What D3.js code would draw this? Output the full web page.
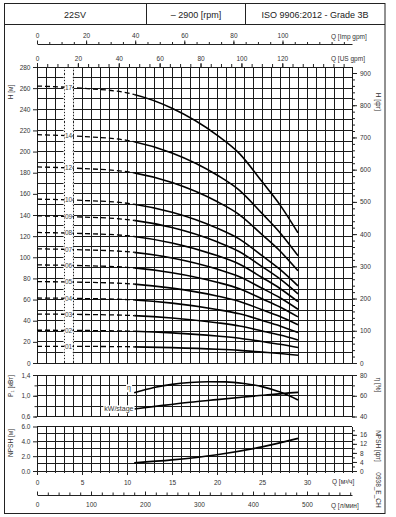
<!DOCTYPE html>
<html><head><meta charset="utf-8">
<script src="https://cdn.jsdelivr.net/npm/d3@7"></script>
<style>
html,body{margin:0;padding:0;background:#fff;}
svg{display:block;font-family:"Liberation Sans",Arial,sans-serif;}
</style></head>
<body>
<svg id="c" width="396" height="517"></svg>
<script>
// ---------- DATA ----------
const headerTexts = ["22SV", "\u2013 2900 [rpm]", "ISO 9906:2012 - Grade 3B"];
const qPoints = [0, 5, 10, 15, 20, 22.5, 25, 27, 29];           // m3/h
const stageLabels = ["17","14","12","10","09","08","07","06","05","04","03","02","01"];
const head17 = [262, 259.9, 255.5, 241.0, 215.6, 198.1, 171.6, 149.6, 123.1];
const head14 = [216, 214.3, 210.6, 198.7, 177.8, 163.3, 141.5, 123.3, 101.5];
const head12 = [185.5, 184.0, 180.9, 170.7, 152.7, 140.2, 121.5, 105.9, 87.2];
const head10 = [155, 153.8, 151.1, 142.6, 127.6, 117.2, 101.5, 88.5, 72.9];
const head09 = [139.2, 138.1, 135.7, 128.1, 114.6, 105.2, 91.2, 79.5, 65.4];
const head08 = [123.5, 122.5, 120.4, 113.6, 101.6, 93.4, 80.9, 70.5, 58.0];
const head07 = [108, 107.1, 105.3, 99.4, 88.9, 81.6, 70.7, 61.7, 50.8];
const head06 = [92.8, 92.1, 90.5, 85.4, 76.4, 70.2, 60.8, 53.0, 43.6];
const head05 = [77, 76.4, 75.1, 70.8, 63.4, 58.2, 50.4, 44.0, 36.2];
const head04 = [61.5, 61.0, 60.0, 56.6, 50.6, 46.5, 40.3, 35.1, 28.9];
const head03 = [46.3, 45.9, 45.1, 42.6, 38.1, 35.0, 30.3, 26.4, 21.8];
const head02 = [31, 30.8, 30.2, 28.5, 25.5, 23.4, 20.3, 17.7, 14.6];
const head01 = [15.8, 15.7, 15.4, 14.5, 13.0, 11.9, 10.3, 9.0, 7.4];
const headSeries = [head17, head14, head12, head10, head09, head08, head07, head06, head05, head04, head03, head02, head01];
const solidFromQ = 10.8;

const etaQ = [10.8, 13, 15, 17, 19, 21, 23, 25, 27, 29];
const etaValues = [62.8, 68, 71, 72.8, 73.5, 73.4, 71.8, 68.8, 63.5, 56];
const powerQ = [10.8, 14, 17, 20, 23, 26, 29];
const powerValues = [0.745, 0.815, 0.875, 0.925, 0.975, 1.025, 1.065];
const npshQ = [10.8, 15, 20, 25, 29];
const npshValues = [1.1, 1.5, 2.2, 3.25, 4.4];

const hTickLabels = [0,20,40,60,80,100,120,140,160,180,200,220,240,260,280];
const hFtTickLabels = [0,100,200,300,400,500,600,700,800,900];
const impTickLabels = [0,20,40,60,80,100];
const usTickLabels = [0,20,40,60,80,100,120];
const m3hTickLabels = [0,5,10,15,20,25,30];
const lminTickLabels = [0,100,200,300,400,500];
const pTickLabels = [0.6,1.0,1.4];
const etaTickLabels = [40,60,80];
const npshTickLabels = [0,2,4,6];
const npshFtTickLabels = [0,4,8,12,16];

// ---------- SCALES ----------
const svg = d3.select("#c");
const X0 = 37, X1 = 352;
const QMAX = 35;
const x = d3.scaleLinear([0, QMAX], [X0, X1]);
const xImp = d3.scaleLinear([0, QMAX / 0.272765], [X0, X1]);
const xUS = d3.scaleLinear([0, QMAX / 0.227125], [X0, X1]);
const xL = d3.scaleLinear([0, QMAX * 1000 / 60], [X0, X1]);
const yH = d3.scaleLinear([0, 280], [363, 67]);
const yHft = d3.scaleLinear([0, 280 / 0.3048], [363, 67]);
const yP = d3.scaleLinear([0.6, 1.4], [416.5, 375]);
const yEta = d3.scaleLinear([40, 80], [416.5, 375]);
const yN = d3.scaleLinear([0, 6], [471, 426.5]);
const yNft = d3.scaleLinear([0, 6 / 0.3048], [471, 426.5]);

const FS = 6.5, TXT = "#333";

// ---------- FRAME & HEADER ----------
svg.append("rect").attr("x",4.5).attr("y",3.5).attr("width",380.5).attr("height",510)
  .attr("fill","none").attr("stroke","#222").attr("stroke-width",1);
svg.append("line").attr("x1",4.5).attr("x2",385).attr("y1",24.5).attr("y2",24.5).attr("stroke","#222");
[146.5, 245.5].forEach(v => svg.append("line").attr("x1",v).attr("x2",v).attr("y1",3.5).attr("y2",24.5).attr("stroke","#222"));
const hdrX = [75, 196, 315];
headerTexts.forEach((t,i) => svg.append("text").attr("x",hdrX[i]).attr("y",17.5)
  .attr("text-anchor","middle").attr("font-size",9).attr("fill","#222").text(t));

// ---------- GRIDS ----------
function grid(yScale, yStep, yMin, yMax) {
  const g = svg.append("g").attr("stroke","#1a1a1a").attr("stroke-width",1).attr("shape-rendering","crispEdges");
  d3.range(0, QMAX + 0.001, 1).forEach(q => g.append("line")
    .attr("x1",x(q)).attr("x2",x(q)).attr("y1",yScale(yMin)).attr("y2",yScale(yMax)));
  d3.range(yMin, yMax + yStep/2, yStep).forEach(v => g.append("line")
    .attr("x1",X0).attr("x2",X1).attr("y1",yScale(v)).attr("y2",yScale(v)));
  return g;
}
grid(yH, 10, 0, 280);
grid(yP, 0.2, 0.6, 1.4);
grid(yN, 1, 0, 6);

// label column (white strip with dotted edges)
svg.append("rect").attr("x",x(3)+0.5).attr("y",yH(280)+1).attr("width",x(4)-x(3)-1)
  .attr("height",yH(0)-yH(280)-2).attr("fill","#fff");
[3,4].forEach(q => {
  svg.append("rect").attr("x",x(q)-0.5).attr("y",yH(280)+1).attr("width",1.2)
    .attr("height",yH(0)-yH(280)-2).attr("fill","#fff");
  svg.append("line").attr("x1",x(q)).attr("x2",x(q)).attr("y1",yH(280)).attr("y2",yH(0))
    .attr("stroke","#222").attr("stroke-width",1).attr("stroke-dasharray","1.2,2")
    .attr("shape-rendering","crispEdges");
});

// ---------- CLIPS ----------
const defs = svg.append("defs");
defs.append("clipPath").attr("id","dashClip").append("rect")
  .attr("x",0).attr("y",0).attr("width",x(solidFromQ)).attr("height",517);
defs.append("clipPath").attr("id","solidClip").append("rect")
  .attr("x",x(solidFromQ)).attr("y",0).attr("width",396).attr("height",517);

// ---------- HEAD CURVES ----------
const lineH = d3.line().x((d,i) => x(qPoints[i])).y(d => yH(d)).curve(d3.curveMonotoneX);
const curves = svg.append("g").attr("fill","none").attr("stroke","#000");
headSeries.forEach(s => {
  curves.append("path").attr("d", lineH(s)).attr("clip-path","url(#dashClip)")
    .attr("stroke-width",1.3).attr("stroke-dasharray","5,3");
  curves.append("path").attr("d", lineH(s)).attr("clip-path","url(#solidClip)")
    .attr("stroke-width",1.6);
});
// stage labels
const labG = svg.append("g").attr("font-size",FS).attr("fill","#444");
headSeries.forEach((s,i) => {
  const yy = yH(d3.scaleLinear(qPoints, s)(3.5));
  labG.append("rect").attr("x",x(3)+0.5).attr("y",yy-3.5).attr("width",x(4)-x(3)-1).attr("height",7).attr("fill","#fff");
  labG.append("text").attr("x",(x(3)+x(4))/2).attr("y",yy+2.3).attr("text-anchor","middle").text(stageLabels[i]);
});

// ---------- ETA / POWER ----------
svg.append("path").attr("fill","none").attr("stroke","#000").attr("stroke-width",1.6)
  .attr("d", d3.line().x((d,i)=>x(etaQ[i])).y(d=>yEta(d)).curve(d3.curveMonotoneX)(etaValues));
svg.append("path").attr("fill","none").attr("stroke","#000").attr("stroke-width",1.6)
  .attr("d", d3.line().x((d,i)=>x(powerQ[i])).y(d=>yP(d)).curve(d3.curveMonotoneX)(powerValues));
function boxLabel(t, xr, yc) {
  const tx = svg.append("text").attr("x",xr).attr("y",yc+2.3).attr("text-anchor","end")
    .attr("font-size",FS+0.5).attr("fill","#333").text(t);
  const bb = tx.node().getBBox();
  svg.insert("rect", () => tx.node()).attr("x",bb.x-1).attr("y",bb.y).attr("width",bb.width+2)
    .attr("height",bb.height).attr("fill","#fff");
}
boxLabel("\u03b7", 131, 388);
boxLabel("kW/stage", 133.5, 409);

// ---------- NPSH ----------
svg.append("path").attr("fill","none").attr("stroke","#000").attr("stroke-width",1.6)
  .attr("d", d3.line().x((d,i)=>x(npshQ[i])).y(d=>yN(d)).curve(d3.curveMonotoneX)(npshValues));

// ---------- AXES ----------
function styleAxis(g) {
  g.attr("font-size",FS).attr("font-family","Liberation Sans, Arial, sans-serif");
  g.selectAll("text").attr("fill",TXT);
  g.selectAll("line").attr("stroke","#222");
  g.selectAll("path").attr("stroke","#222");
  return g;
}
function fmtComma(d){ return d3.format(".1f")(d).replace(".", ","); }

// top Imp gpm
styleAxis(svg.append("g").attr("transform","translate(0,44)")
  .call(d3.axisTop(xImp).tickValues(d3.range(0,126,5)).tickSize(2).tickFormat("").tickSizeOuter(0)));
styleAxis(svg.append("g").attr("transform","translate(0,44)")
  .call(d3.axisTop(xImp).tickValues(impTickLabels).tickSize(3.5).tickPadding(2.5).tickSizeOuter(0))
  .call(g=>g.select(".domain").remove()));
svg.append("text").attr("x",331).attr("y",38.5).attr("font-size",FS).attr("fill",TXT).text("Q [Imp gpm]");

// top US gpm (on top of main plot)
styleAxis(svg.append("g").attr("transform","translate(0,67)")
  .call(d3.axisTop(xUS).tickValues(d3.range(0,151,5)).tickSize(3).tickFormat("").tickSizeOuter(0))
  .call(g=>g.select(".domain").remove()));
styleAxis(svg.append("g").attr("transform","translate(0,67)")
  .call(d3.axisTop(xUS).tickValues(usTickLabels).tickSize(4).tickPadding(2.5).tickSizeOuter(0))
  .call(g=>g.select(".domain").remove()));
svg.append("text").attr("x",331).attr("y",61).attr("font-size",FS).attr("fill",TXT).text("Q [US gpm]");

// left H [m]
styleAxis(svg.append("g").attr("transform",`translate(${X0},0)`)
  .call(d3.axisLeft(yH).tickValues(hTickLabels).tickSize(4).tickPadding(2.5).tickSizeOuter(0))
  .call(g=>g.select(".domain").remove()));
// right H [ft]
styleAxis(svg.append("g").attr("transform",`translate(${X1},0)`)
  .call(d3.axisRight(yHft).tickValues(d3.range(0,901,20)).tickSize(3).tickFormat("").tickSizeOuter(0))
  .call(g=>g.select(".domain").remove()));
styleAxis(svg.append("g").attr("transform",`translate(${X1},0)`)
  .call(d3.axisRight(yHft).tickValues(hFtTickLabels).tickSize(5).tickPadding(3).tickSizeOuter(0))
  .call(g=>g.select(".domain").remove()));

// P axis left
styleAxis(svg.append("g").attr("transform",`translate(${X0},0)`)
  .call(d3.axisLeft(yP).tickValues([0.6,0.8,1.0,1.2,1.4]).tickSize(2.5).tickFormat("").tickSizeOuter(0))
  .call(g=>g.select(".domain").remove()));
styleAxis(svg.append("g").attr("transform",`translate(${X0},0)`)
  .call(d3.axisLeft(yP).tickValues(pTickLabels).tickSize(4).tickPadding(2.5).tickFormat(fmtComma).tickSizeOuter(0))
  .call(g=>g.select(".domain").remove()));
// eta right
styleAxis(svg.append("g").attr("transform",`translate(${X1},0)`)
  .call(d3.axisRight(yEta).tickValues([40,50,60,70,80]).tickSize(3).tickFormat("").tickSizeOuter(0))
  .call(g=>g.select(".domain").remove()));
styleAxis(svg.append("g").attr("transform",`translate(${X1},0)`)
  .call(d3.axisRight(yEta).tickValues(etaTickLabels).tickSize(5).tickPadding(3).tickSizeOuter(0))
  .call(g=>g.select(".domain").remove()));

// NPSH left
styleAxis(svg.append("g").attr("transform",`translate(${X0},0)`)
  .call(d3.axisLeft(yN).tickValues(npshTickLabels).tickSize(4).tickPadding(2.5).tickSizeOuter(0))
  .call(g=>g.select(".domain").remove()));
// NPSH right ft
styleAxis(svg.append("g").attr("transform",`translate(${X1},0)`)
  .call(d3.axisRight(yNft).tickValues(d3.range(0,19,2)).tickSize(3).tickFormat("").tickSizeOuter(0))
  .call(g=>g.select(".domain").remove()));
styleAxis(svg.append("g").attr("transform",`translate(${X1},0)`)
  .call(d3.axisRight(yNft).tickValues(npshFtTickLabels).tickSize(5).tickPadding(3).tickSizeOuter(0))
  .call(g=>g.select(".domain").remove()));

// bottom m3/h
styleAxis(svg.append("g").attr("transform","translate(0,471)")
  .call(d3.axisBottom(x).tickValues(d3.range(0,36,1)).tickSize(2).tickFormat("").tickSizeOuter(0))
  .call(g=>g.select(".domain").remove()));
styleAxis(svg.append("g").attr("transform","translate(0,471)")
  .call(d3.axisBottom(x).tickValues(m3hTickLabels).tickSize(4).tickPadding(5).tickSizeOuter(0))
  .call(g=>g.select(".domain").remove()));
svg.append("text").attr("x",332).attr("y",484).attr("font-size",FS).attr("fill",TXT).text("Q [м³/ч]");

// bottom l/min
styleAxis(svg.append("g").attr("transform","translate(0,495)")
  .call(d3.axisBottom(xL).tickValues(d3.range(0,581,20)).tickSize(-2.5).tickFormat("").tickSizeOuter(0)));
styleAxis(svg.append("g").attr("transform","translate(0,495)")
  .call(d3.axisBottom(xL).tickValues(lminTickLabels).tickSize(-3.5).tickPadding(7).tickSizeOuter(0))
  .call(g=>g.select(".domain").remove()));
svg.append("text").attr("x",331).attr("y",507.5).attr("font-size",FS).attr("fill",TXT).text("Q [л/мин]");

// ---------- ROTATED AXIS TITLES ----------
function vlabel(t, xx, yy, ang) {
  svg.append("text").attr("transform",`translate(${xx},${yy}) rotate(${ang})`)
    .attr("text-anchor","middle").attr("font-size",FS).attr("fill",TXT).text(t);
}
vlabel("H [м]", 13, 92, -90);
vlabel("P\u2081 [кВт]", 13, 386, -90);
vlabel("NPSH [м]", 13, 443, -90);
vlabel("H [фт]", 376, 102, 90);
vlabel("\u03b7 [%]", 376, 385, 90);
vlabel("NPSH [фт]", 376, 446, 90);
vlabel("0938_E_CH", 376, 490, 90);
</script>
</body></html>
